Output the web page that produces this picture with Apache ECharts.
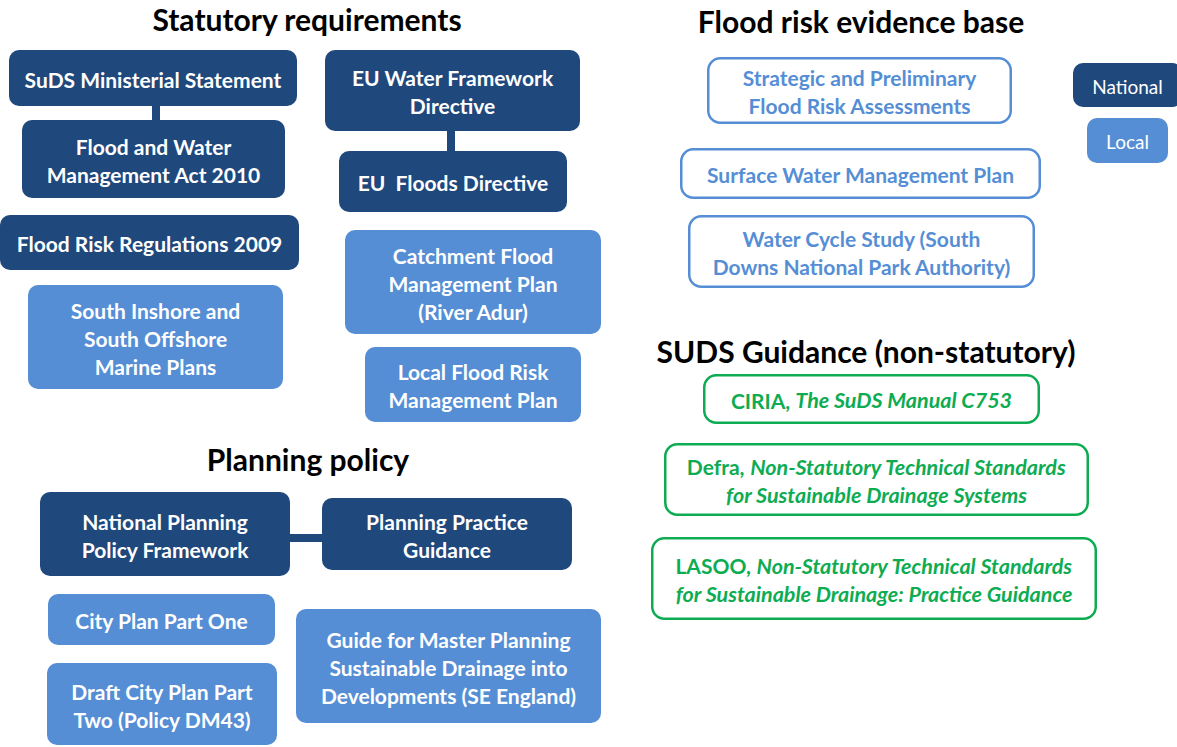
<!DOCTYPE html>
<html>
<head>
<meta charset="utf-8">
<script src="https://cdn.jsdelivr.net/npm/echarts@6/dist/echarts.min.js"></script>
<style>
  html, body { margin: 0; padding: 0; background: #fff; }
  #chart { width: 1177px; height: 747px; }
</style>
</head>
<body>
<div id="chart"></div>
<script>
// section headings: [text, centre x, centre y]
const headings = [
  ["Statutory requirements", 307, 19],
  ["Planning policy", 308, 459],
  ["Flood risk evidence base", 861, 21],
  ["SUDS Guidance (non-statutory)", 866, 351],
];

// documents: [label, tier, x0, y0, x1, y1]
const boxes = [
  ["SuDS Ministerial Statement", "national", 9, 50, 297, 106],
  ["Flood and Water\nManagement Act 2010", "national", 22, 120, 285, 198],
  ["Flood Risk Regulations 2009", "national", 0, 215, 299, 270],
  ["South Inshore and\nSouth Offshore\nMarine Plans", "local", 28, 285, 283, 389],
  ["EU Water Framework\nDirective", "national", 325, 50, 580, 131],
  ["EU  Floods Directive", "national", 339, 151, 567, 212],
  ["Catchment Flood\nManagement Plan\n(River Adur)", "local", 345, 230, 601, 334],
  ["Local Flood Risk\nManagement Plan", "local", 365, 347, 581, 422],
  ["National Planning\nPolicy Framework", "national", 40, 492, 290, 576],
  ["Planning Practice\nGuidance", "national", 322, 498, 572, 570],
  ["City Plan Part One", "local", 48, 594, 275, 645],
  ["Draft City Plan Part\nTwo (Policy DM43)", "local", 47, 663, 277, 745],
  ["Guide for Master Planning\nSustainable Drainage into\nDevelopments (SE England)", "local", 296, 609, 601, 723],
  ["Strategic and Preliminary\nFlood Risk Assessments", "evidence", 707, 57, 1012, 124],
  ["Surface Water Management Plan", "evidence", 680, 148, 1041, 199],
  ["Water Cycle Study (South\nDowns National Park Authority)", "evidence", 688, 215, 1035, 288],
  ["CIRIA, {i|The SuDS Manual C753}", "guidance", 703, 374, 1040, 424],
  ["Defra, {i|Non-Statutory Technical Standards}\n{i|for Sustainable Drainage Systems}", "guidance", 664, 443, 1089, 516],
  ["LASOO, {i|Non-Statutory Technical Standards}\n{i|for Sustainable Drainage: Practice Guidance}", "guidance", 651, 537, 1097, 620],
];

// key: [label, tier, x0, y0, x1, y1]
const keyItems = [
  ["National", "national", 1073, 63, 1182, 107],
  ["Local", "local", 1087, 118, 1168, 163],
];

// links between boxes: [x0, y0, x1, y1]
const connectors = [
  [156, 104, 156, 122],
  [451, 129, 451, 153],
  [288, 538, 324, 538],
];

const NAVY = "#1f487c";
const LIGHT = "#558ed5";
const GREEN = "#0eac52";
const FONT = "Lato, 'Open Sans', sans-serif";

const tierStyle = {
  national: { fill: NAVY, stroke: null, text: "#fff" },
  local: { fill: LIGHT, stroke: null, text: "#fff" },
  evidence: { fill: "#fff", stroke: LIGHT, text: LIGHT },
  guidance: { fill: "#fff", stroke: GREEN, text: GREEN },
};

function boxRenderer(list, bold, size) {
  return function (params, api) {
    const row = list[params.dataIndex];
    const p0 = api.coord([api.value(0), api.value(1)]);
    const p1 = api.coord([api.value(2), api.value(3)]);
    const st = tierStyle[row[1]];
    const outlined = !!st.stroke;
    const lw = outlined ? 2.5 : 0;
    return {
      type: "group",
      children: [
        {
          type: "rect",
          shape: {
            x: p0[0] + lw / 2, y: p0[1] + lw / 2,
            width: p1[0] - p0[0] - lw, height: p1[1] - p0[1] - lw,
            r: outlined ? 12 : 10,
          },
          style: { fill: st.fill, stroke: st.stroke, lineWidth: lw },
        },
        {
          type: "text",
          x: (p0[0] + p1[0]) / 2,
          y: (p0[1] + p1[1]) / 2 + 1,
          style: {
            text: row[0],
            fill: st.text,
            fontFamily: FONT,
            fontSize: size,
            fontWeight: bold ? "bold" : "normal",
            lineHeight: 28,
            align: "center",
            verticalAlign: "middle",
            rich: {
              i: {
                fill: st.text, fontFamily: FONT, fontSize: size + 0.5,
                fontWeight: "bold", fontStyle: "italic", lineHeight: 28,
              },
            },
          },
        },
      ],
    };
  };
}

const chart = echarts.init(document.getElementById("chart"), null, { renderer: "svg" });

chart.setOption({
  animation: false,
  backgroundColor: "#fff",
  grid: { left: 0, right: 0, top: 0, bottom: 0 },
  xAxis: { type: "value", min: 0, max: 1177, show: false },
  yAxis: { type: "value", min: 0, max: 747, inverse: true, show: false },
  series: [
    {
      type: "custom",
      renderItem: function (params, api) {
        const a = api.coord([api.value(0), api.value(1)]);
        const b = api.coord([api.value(2), api.value(3)]);
        return {
          type: "line",
          shape: { x1: a[0], y1: a[1], x2: b[0], y2: b[1] },
          style: { stroke: NAVY, lineWidth: 8 },
        };
      },
      data: connectors,
      silent: true,
    },
    {
      type: "custom",
      renderItem: boxRenderer(boxes, true, 21),
      data: boxes.map((b) => b.slice(2)),
      silent: true,
    },
    {
      type: "custom",
      renderItem: boxRenderer(keyItems, false, 19),
      data: keyItems.map((b) => b.slice(2)),
      silent: true,
    },
    {
      type: "custom",
      renderItem: function (params, api) {
        const p = api.coord([api.value(0), api.value(1)]);
        return {
          type: "text",
          x: p[0],
          y: p[1],
          style: {
            text: headings[params.dataIndex][0],
            fill: "#000",
            fontFamily: FONT,
            fontSize: 30,
            fontWeight: "bold",
            align: "center",
            verticalAlign: "middle",
          },
        };
      },
      data: headings.map((h) => h.slice(1)),
      silent: true,
    },
  ],
});
</script>
</body>
</html>
